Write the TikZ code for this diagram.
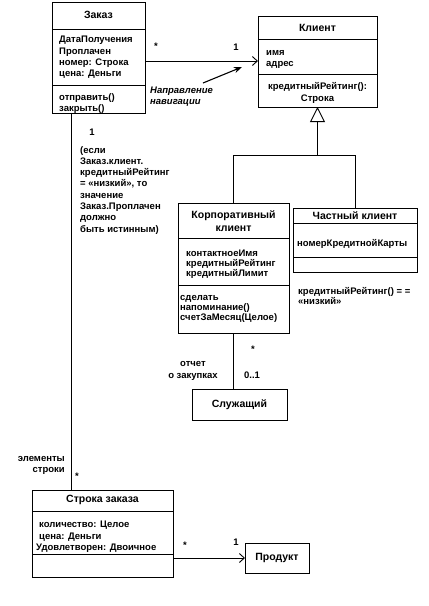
\documentclass[tikz,border=0pt]{standalone}
\usepackage{fontspec}
\setmainfont{Liberation Sans}
\usetikzlibrary{arrows.meta}
\begin{document}
\begin{tikzpicture}[x=1pt,y=-1pt,
  box/.style={draw, line width=0.9pt, inner sep=0pt, outer sep=0pt, anchor=north west},
  sep/.style={line width=0.9pt},
  con/.style={line width=0.9pt},
  t/.style={font=\fontsize{9.5}{11.3}\selectfont\bfseries, inner sep=0pt, align=left, anchor=north west},
  tc/.style={t, align=center, anchor=center},
  ttl/.style={tc, font=\fontsize{10.5}{12.5}\selectfont\bfseries},
  ti/.style={t, font=\fontsize{9.5}{10.5}\selectfont\bfseries\itshape},
  open/.style={-{Straight Barb[length=5pt,width=9pt]}}
]
\useasboundingbox (0,0) rectangle (429,606);

% ---------- boxes ----------
\node[box, minimum width=93pt, minimum height=111pt] (zakaz) at (52,2) {};
\draw[sep] ([yshift=-27pt]zakaz.north west) -- ([yshift=-27pt]zakaz.north east);
\draw[sep] ([yshift=-83pt]zakaz.north west) -- ([yshift=-83pt]zakaz.north east);

\node[box, minimum width=119pt, minimum height=91pt] (klient) at (258,16) {};
\draw[sep] ([yshift=-23pt]klient.north west) -- ([yshift=-23pt]klient.north east);
\draw[sep] ([yshift=-58pt]klient.north west) -- ([yshift=-58pt]klient.north east);

\node[box, minimum width=111pt, minimum height=130pt] (korp) at (178,203) {};
\draw[sep] ([yshift=-35pt]korp.north west) -- ([yshift=-35pt]korp.north east);
\draw[sep] ([yshift=-82pt]korp.north west) -- ([yshift=-82pt]korp.north east);

\node[box, minimum width=124pt, minimum height=64pt] (chast) at (293,208) {};
\draw[sep] ([yshift=-15pt]chast.north west) -- ([yshift=-15pt]chast.north east);
\draw[sep] ([yshift=-49pt]chast.north west) -- ([yshift=-49pt]chast.north east);

\node[box, minimum width=95pt, minimum height=31pt] (sluzh) at (192,389) {};

\node[box, minimum width=141pt, minimum height=87pt] (stroka) at (32,490) {};
\draw[sep] ([yshift=-21pt]stroka.north west) -- ([yshift=-21pt]stroka.north east);
\draw[sep] ([yshift=-64pt]stroka.north west) -- ([yshift=-64pt]stroka.north east);

\node[box, minimum width=64pt, minimum height=30pt] (produkt) at (245,543) {};

% ---------- texts in boxes ----------
\node[ttl] (zakazT) at (98.5,15) {Заказ};
\node[t] (zakazA) at (59,36) {ДатаПолучения\\Проплачен\\номер: Строка\\цена: Деньги};
\node[t] (zakazM) at (59,93) {отправить()\\закрыть()};

\node[ttl] (klientT) at (317.5,28) {Клиент};
\node[t] (klientA) at (266,50) {имя\\адрес};
\node[tc] (klientM) at (317.5,93) {кредитныйРейтинг():\\Строка};

\node[ttl] (korpT) at (233.5,221) {Корпоративный\\клиент};
\node[t, font=\fontsize{9.5}{10}\selectfont\bfseries] (korpA) at (186,250) {контактноеИмя\\кредитныйРейтинг\\кредитныйЛимит};
\node[t, font=\fontsize{9.5}{10}\selectfont\bfseries] (korpM) at (180,295) {сделать\\напоминание()\\счетЗаМесяц(Целое)};

\node[ttl] (chastT) at (355,216) {Частный клиент};
\node[t] (chastA) at (297,239) {номерКредитнойКарты};
\node[t, font=\fontsize{9.5}{9}\selectfont\bfseries] (note) at (298,287) {кредитныйРейтинг() = =\\«низкий»};

\node[ttl] (sluzhT) at (sluzh.center) {Служащий};

\node[ttl] (strokaT) at (102.5,500) {Строка заказа};
\node[t, font=\fontsize{9.5}{11.5}\selectfont\bfseries] (strokaA) at (36,521) {\hspace*{3pt}количество: Целое\\\hspace*{3pt}цена: Деньги\\Удовлетворен: Двоичное};

\node[ttl] (produktT) at (produkt.center) {Продукт};

% ---------- connectors ----------
\coordinate (asy) at (0,61);
\draw[con, open] (zakaz.east |- asy) -- (klient.west |- asy);
\node[tc] (m1) at (156,46) {*};
\node[tc] (m2) at (236,47) {1};

\coordinate (nav1) at (203,83);
\coordinate (nav2) at (242,67);
\draw[line width=1.1pt, -{Stealth[length=8pt,width=6pt]}] (nav1) -- (nav2);
\node[ti] (navT) at (150,87) {Направление\\навигации};

\coordinate (gj) at (317.5,155);
\draw[con, -{Triangle[open, length=15pt, width=15pt, line width=0.9pt]}] (gj) -- (klient.south);
\draw[con] (korp.north) -- (korp.north |- gj) -- (chast.north |- gj) -- (chast.north);

\draw[con] (korp.south) -- (korp.south |- sluzh.north);
\node[tc] (m3) at (253,349) {*};
\node[tc] (m4) at (252,375) {0..1};
\node[tc] (role1) at (193,371) {отчет\\о закупках};

\coordinate (zx) at (71,0);
\draw[con] (zakaz.south -| zx) -- (stroka.north -| zx);
\node[tc] (m5) at (92,132) {1};
\node[t] (constr) at (80,146) {(если\\Заказ.клиент.\\кредитныйРейтинг\\= «низкий», то\\значение\\Заказ.Проплачен\\должно\\быть истинным)};
\node[t, align=right, anchor=north east] (role2) at (65,456) {элементы\\строки};
\node[tc] (m6) at (77,476) {*};

\draw[con, open] (stroka.east |- produkt.west) -- (produkt.west);
\node[tc] (m7) at (185,545) {*};
\node[tc] (m8) at (236,542) {1};
\end{tikzpicture}
\end{document}
